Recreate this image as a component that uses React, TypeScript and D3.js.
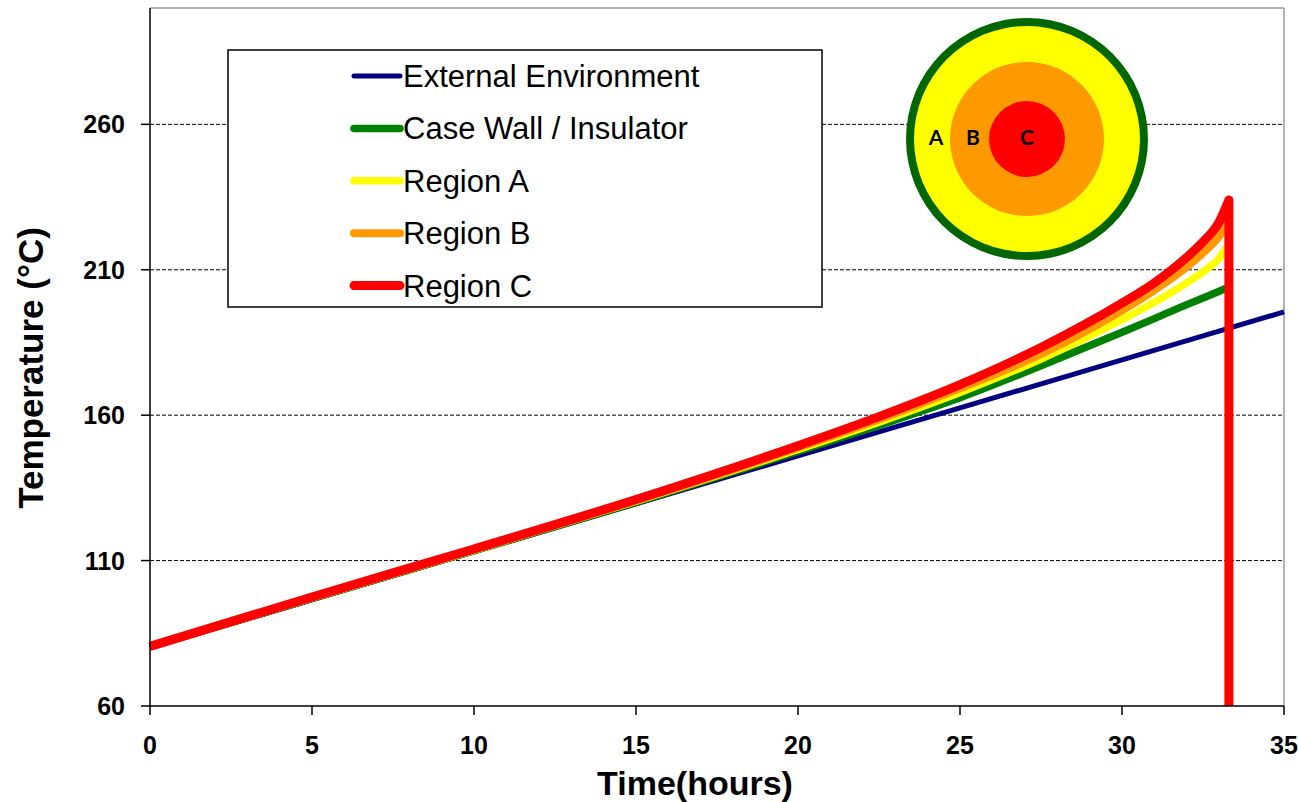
import React from "react";
import * as d3 from "d3";

const times = [0, 5, 10, 15, 20, 22.5, 25, 27.5, 30, 31, 32, 32.5, 33, 33.3];
const regionC = [80.5, 97.5, 114, 131, 149.5, 159.5, 170.5, 183.3, 198.5, 205.5, 214.3, 219.6, 226.5, 234];
const regionB = [80.5, 97.3, 113.8, 130.7, 148.8, 158.5, 169.2, 181, 196, 203, 211, 215.8, 221.5, 226.5];
const regionA = [80.5, 97.2, 113.6, 130.4, 148.2, 157.6, 167.8, 179.3, 192.8, 198.8, 205.5, 209.3, 214, 219];
const caseWall = [80.5, 97, 113.4, 130, 147.5, 156.5, 166, 177, 188.5, 193.2, 198, 200.3, 202.6, 204];
const extTimes = [0, 5, 10, 15, 20, 25, 30, 35];
const external = [80, 96.5, 113, 129.5, 146, 162.5, 179, 195.5];
const failTime = 33.3;

const xTicks = [0, 5, 10, 15, 20, 25, 30, 35];
const yTicks = [60, 110, 160, 210, 260];

const seriesNames = ["External Environment", "Case Wall / Insulator", "Region A", "Region B", "Region C"];
const seriesColors = ["#000080", "#008000", "#FFFF00", "#FF9900", "#FF0000"];
const seriesWidths = [5, 7.5, 7.5, 8, 9];

const W = 1299, H = 802;
const L = 150, R = 1284, T = 8, B = 706;
const FONT = '"Liberation Sans", Arial, sans-serif';

export default function App() {
  const x = d3.scaleLinear().domain([0, 35]).range([L, R]);
  const y = d3.scaleLinear().domain([60, 300]).range([B, T]);
  const line = d3.line<[number, number]>().x(d => x(d[0])).y(d => y(d[1])).curve(d3.curveMonotoneX);

  const internal = [caseWall, regionA, regionB, regionC];
  const paths: string[] = [];
  paths.push(line(extTimes.map((t, i) => [t, external[i]] as [number, number])) || "");
  internal.forEach(vals => {
    const p = line(times.map((t, i) => [t, vals[i]] as [number, number])) || "";
    paths.push(p + `L${x(failTime)},${y(60)}`);
  });

  const legendY0 = 76, legendDy = 52.4;

  return (
    <svg width={W} height={H} style={{ position: "absolute", left: 0, top: 0, background: "#fff" }} fontFamily={FONT}>
      <rect x={0} y={0} width={W} height={H} fill="#fff" />
      {yTicks.filter(v => v > 60).map(v => (
        <line key={v} x1={L} x2={R} y1={y(v)} y2={y(v)} stroke="#000" strokeWidth={1} strokeDasharray="4,2" />
      ))}
      <line x1={L} x2={R} y1={T} y2={T} stroke="#999" strokeWidth={1.5} />
      <line x1={R} x2={R} y1={T} y2={B} stroke="#999" strokeWidth={1.5} />
      <rect x={228} y={50} width={594} height={257} fill="#fff" stroke="#000" strokeWidth={1.5} />
      {seriesNames.map((n, i) => (
        <g key={n}>
          <line x1={354} x2={400} y1={legendY0 + i * legendDy} y2={legendY0 + i * legendDy}
            stroke={seriesColors[i]} strokeWidth={seriesWidths[i]} strokeLinecap="round" />
          <text x={403} y={legendY0 + i * legendDy + 11} fontSize={31} fill="#000">{n}</text>
        </g>
      ))}
      <g>
        <circle cx={1027} cy={139} r={121} fill="#006600" />
        <circle cx={1027} cy={139} r={113} fill="#FFFF00" />
        <circle cx={1027} cy={139} r={77} fill="#FF9900" />
        <circle cx={1027} cy={139} r={38} fill="#FF0000" />
        {[["A", 936], ["B", 973], ["C", 1027]].map(([t, cx]) => (
          <text key={t as string} x={cx as number} y={145} textAnchor="middle" fontSize={21} fontWeight="bold"
            fontFamily='Lato, "Open Sans", sans-serif' fill="#000">{t}</text>
        ))}
      </g>
      {paths.map((p, i) => (
        <path key={i} d={p} fill="none" stroke={seriesColors[i]} strokeWidth={seriesWidths[i]} strokeLinejoin="round" />
      ))}
      <line x1={L} x2={L} y1={T} y2={B} stroke="#000" strokeWidth={1.5} />
      <line x1={L} x2={R} y1={B} y2={B} stroke="#000" strokeWidth={1.5} />
      {yTicks.map(v => (
        <g key={v}>
          <line x1={141} x2={L} y1={y(v)} y2={y(v)} stroke="#000" strokeWidth={1.5} />
          <text x={125} y={y(v)} dy="0.36em" textAnchor="end" fontSize={25} fontWeight="bold" fill="#000">{v}</text>
        </g>
      ))}
      {xTicks.map(v => (
        <g key={v}>
          <line x1={x(v)} x2={x(v)} y1={B} y2={B + 9} stroke="#000" strokeWidth={1.5} />
          <text x={x(v)} y={754} textAnchor="middle" fontSize={25} fontWeight="bold" fill="#000">{v}</text>
        </g>
      ))}
      <text x={695} y={795} textAnchor="middle" fontSize={34} fontWeight="bold" fill="#000">Time(hours)</text>
      <text transform={`translate(43,368) rotate(-90)`} textAnchor="middle" fontSize={35} fontWeight="bold" fill="#000">Temperature (°C)</text>
    </svg>
  );
}
